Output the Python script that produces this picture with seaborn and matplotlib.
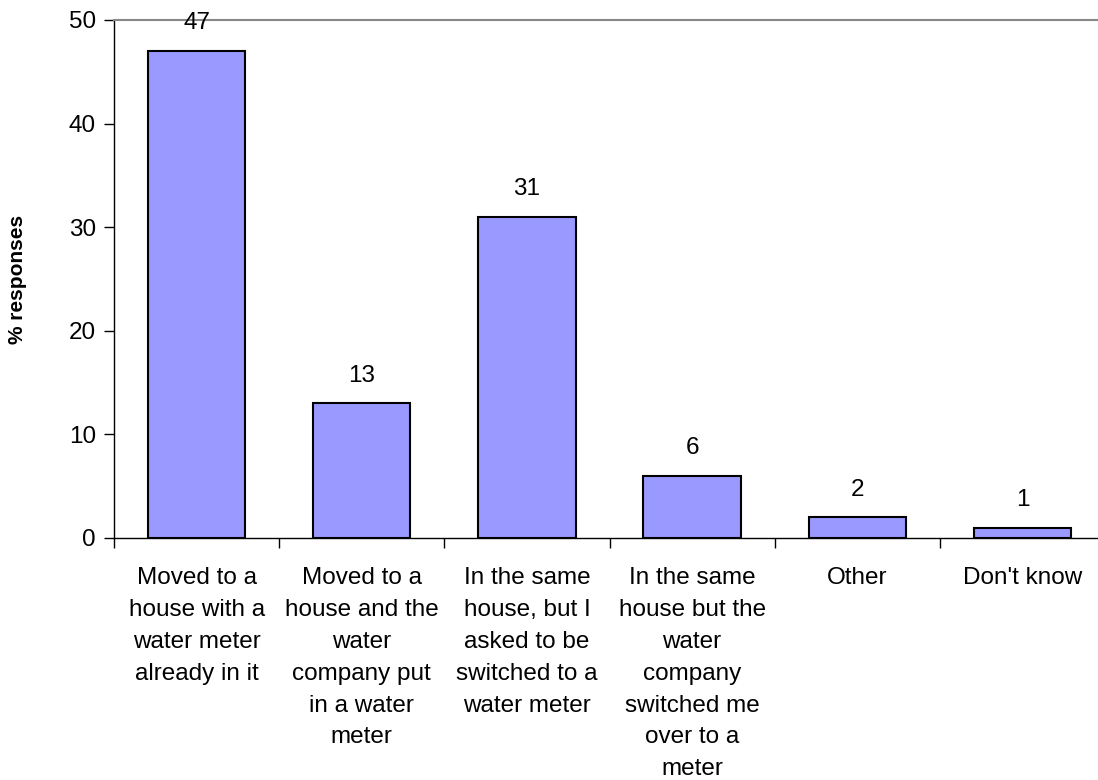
import matplotlib
matplotlib.use("Agg")
import matplotlib.pyplot as plt
import seaborn as sns
import pandas as pd

categories = [
    "Moved to a\nhouse with a\nwater meter\nalready in it",
    "Moved to a\nhouse and the\nwater\ncompany put\nin a water\nmeter",
    "In the same\nhouse, but I\nasked to be\nswitched to a\nwater meter",
    "In the same\nhouse but the\nwater\ncompany\nswitched me\nover to a\nmeter",
    "Other",
    "Don't know",
]
values = [47, 13, 31, 6, 2, 1]
y_ticks = [0, 10, 20, 30, 40, 50]

sns.set_theme(style="white")
plt.rcParams['font.family'] = ['Liberation Sans', 'DejaVu Sans']
plt.rcParams['text.color'] = 'black'
plt.rcParams['axes.labelcolor'] = 'black'
plt.rcParams['xtick.color'] = 'black'
plt.rcParams['ytick.color'] = 'black'

df = pd.DataFrame({"cat": categories, "val": values})

fig = plt.figure(figsize=(10.98, 7.8), dpi=100)
W, H = 1098, 780
left, right, top, bottom = 114, 1105, 20, 538
ax = fig.add_axes([left / W, 1 - bottom / H, (right - left) / W, (bottom - top) / H])

sns.barplot(data=df, x="cat", y="val", color="#9999FF", edgecolor="black",
            linewidth=1.5, width=0.59, saturation=1, ax=ax)

fs = 17.5
ax.set_ylim(0, 50)
ax.set_xlim(-0.5, len(categories) - 0.5)
ax.set_yticks(y_ticks)
ax.set_yticklabels([str(t) for t in y_ticks], fontsize=fs)
ax.set_xticks(range(len(categories)))
ax.set_xticklabels(categories, fontsize=fs, linespacing=1.58, va="top")
ax.set_xticks([i - 0.5 for i in range(len(categories) + 1)], minor=True)
ax.tick_params(axis="x", which="major", length=0, pad=21)
ax.tick_params(axis="x", which="minor", length=7, width=1, color="black", direction="out", bottom=True)
ax.tick_params(axis="y", which="major", length=7, width=1, color="black", direction="out", left=True, pad=6)

ax.set_xlabel("")
ax.set_ylabel("% responses", fontsize=15, fontweight="bold", labelpad=30)

for s in ["left", "bottom"]:
    ax.spines[s].set_color("black")
    ax.spines[s].set_linewidth(1)
ax.spines["top"].set_color("#888888")
ax.spines["top"].set_linewidth(1.5)
ax.spines["right"].set_visible(False)

for i, v in enumerate(values):
    ax.annotate(str(v), (i, v), xytext=(0, 20), textcoords="offset points",
                ha="center", va="center", fontsize=fs, annotation_clip=False)

fig.savefig("out.png", dpi=100)
